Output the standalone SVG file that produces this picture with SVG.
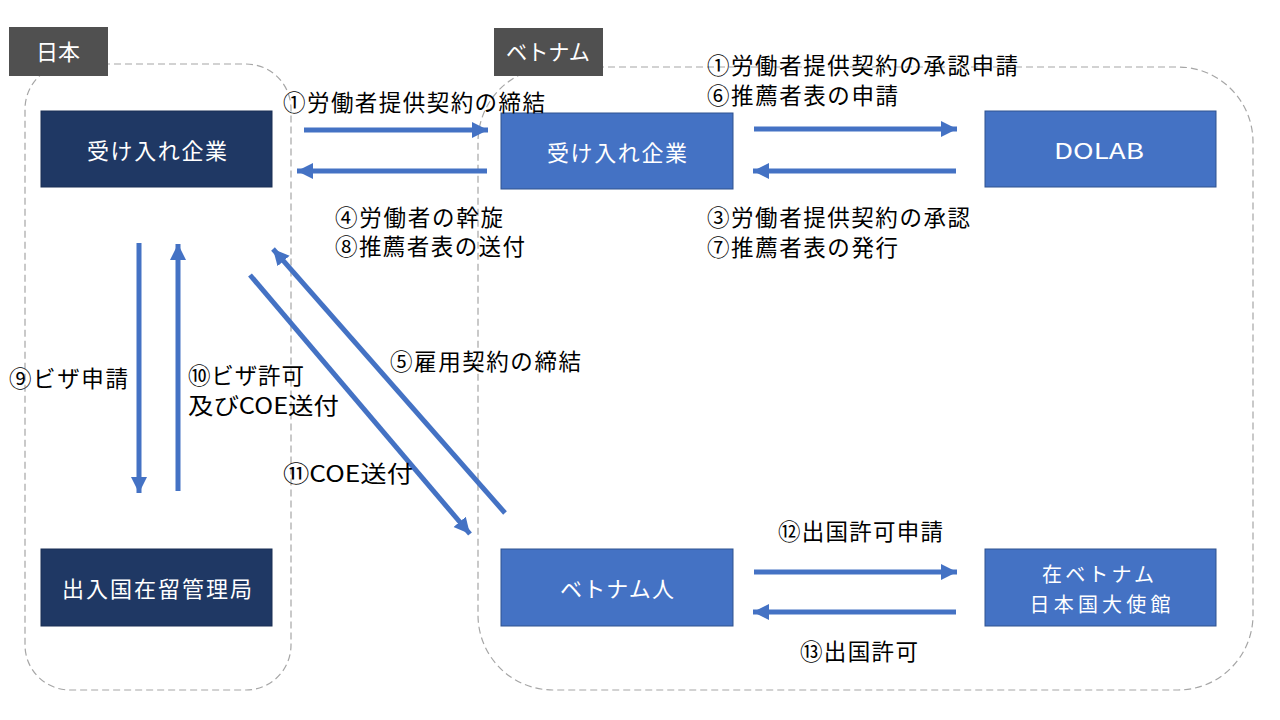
<svg xmlns="http://www.w3.org/2000/svg" width="1280" height="720" viewBox="0 0 1280 720">
<defs>
<marker id="ah" markerUnits="userSpaceOnUse" markerWidth="20" markerHeight="20" viewBox="0 0 20 20" refX="16" refY="10" orient="auto">
<polygon points="0,2 16,10 0,18" fill="#4472C4"/>
</marker>
</defs>
<style>
.region{fill:none;stroke:#A6A6A6;stroke-width:1.2;stroke-dasharray:7 4}
.tag{fill:#505050}
.tagt{fill:#fff;font-family:"Noto Sans CJK JP",sans-serif;font-size:22px}
.dk{fill:#1F3864;stroke:#1a2f55;stroke-width:1}
.bl{fill:#4472C4;stroke:#2F528F;stroke-width:1}
.nt{fill:#fff;font-family:"Noto Sans CJK JP",sans-serif;font-size:22px;text-anchor:middle;dominant-baseline:central}
.nt2{font-size:20px}
.lb{fill:#000;font-family:"Noto Sans CJK JP",sans-serif;font-size:22.5px;dominant-baseline:central}
.c{stroke:#4472C4;stroke-width:5;fill:none;marker-end:url(#ah)}
</style>
<rect width="1280" height="720" fill="#fff"/>
<g id="regions">
<rect class="region" x="25" y="64" width="266" height="626" rx="45" ry="45"/>
<rect class="region" x="478" y="67" width="775" height="623" rx="75" ry="75"/>
</g>
<g id="tag-japan"><rect class="tag" x="9" y="27" width="99" height="49"/><text class="tagt" x="36" y="60" textLength="44" lengthAdjust="spacingAndGlyphs">日本</text></g>
<g id="tag-vietnam"><rect class="tag" x="494" y="28" width="109" height="48"/><text class="tagt" x="506" y="60" textLength="84" lengthAdjust="spacingAndGlyphs">ベトナム</text></g>
<g id="n-jp-company"><rect class="dk" x="41" y="111" width="231" height="76"/><text class="nt" x="157" y="149" textLength="140">受け入れ企業</text></g>
<g id="n-immigration"><rect class="dk" x="41" y="549" width="231" height="77"/><text class="nt" x="157" y="587" textLength="190">出入国在留管理局</text></g>
<g id="n-vn-company"><rect class="bl" x="501" y="113" width="232" height="76"/><text class="nt" x="617" y="151" textLength="140">受け入れ企業</text></g>
<g id="n-dolab"><rect class="bl" x="985" y="111" width="231" height="76"/><text class="nt" x="1099" y="149" textLength="90" lengthAdjust="spacingAndGlyphs">DOLAB</text></g>
<g id="n-vn-person"><rect class="bl" x="501" y="549" width="232" height="77"/><text class="nt" x="617" y="587" textLength="114">ベトナム人</text></g>
<g id="n-embassy"><rect class="bl" x="985" y="549" width="231" height="77"/><text class="nt nt2" x="1098" y="573" textLength="112">在ベトナム</text><text class="nt nt2" x="1100" y="603" textLength="141">日本国大使館</text></g>
<g id="connectors">
<line class="c" x1="304" y1="130" x2="488" y2="130"/>
<line class="c" x1="487" y1="171" x2="297" y2="171"/>
<line class="c" x1="754" y1="129" x2="957" y2="129"/>
<line class="c" x1="956" y1="171" x2="753" y2="171"/>
<line class="c" x1="139" y1="243" x2="139" y2="493"/>
<line class="c" x1="178" y1="491" x2="178" y2="244"/>
<line class="c" x1="250" y1="275" x2="470" y2="534"/>
<line class="c" x1="505" y1="513" x2="273" y2="249"/>
<line class="c" x1="754" y1="572" x2="957" y2="572"/>
<line class="c" x1="956" y1="612" x2="753" y2="612"/>
</g>
<g id="labels">
<text class="lb" x="283" y="101" textLength="262">①労働者提供契約の締結</text>
<text class="lb" x="335" y="216" textLength="168">④労働者の幹旋</text>
<text class="lb" x="335" y="245" textLength="190">⑧推薦者表の送付</text>
<text class="lb" x="707" y="64" textLength="311">①労働者提供契約の承認申請</text>
<text class="lb" x="707" y="94" textLength="191">⑥推薦者表の申請</text>
<text class="lb" x="707" y="216" textLength="263">③労働者提供契約の承認</text>
<text class="lb" x="707" y="246" textLength="191">⑦推薦者表の発行</text>
<text class="lb" x="390" y="360" textLength="191">⑤雇用契約の締結</text>
<text class="lb" x="9" y="377" textLength="119">⑨ビザ申請</text>
<text class="lb" x="188" y="374" textLength="116">⑩ビザ許可</text>
<text class="lb" x="188" y="404" textLength="151" lengthAdjust="spacingAndGlyphs">及びCOE送付</text>
<text class="lb" x="283" y="472" textLength="130" lengthAdjust="spacingAndGlyphs">⑪COE送付</text>
<text class="lb" x="778" y="530" textLength="165">⑫出国許可申請</text>
<text class="lb" x="800" y="650" textLength="118">⑬出国許可</text>
</g>
</svg>
